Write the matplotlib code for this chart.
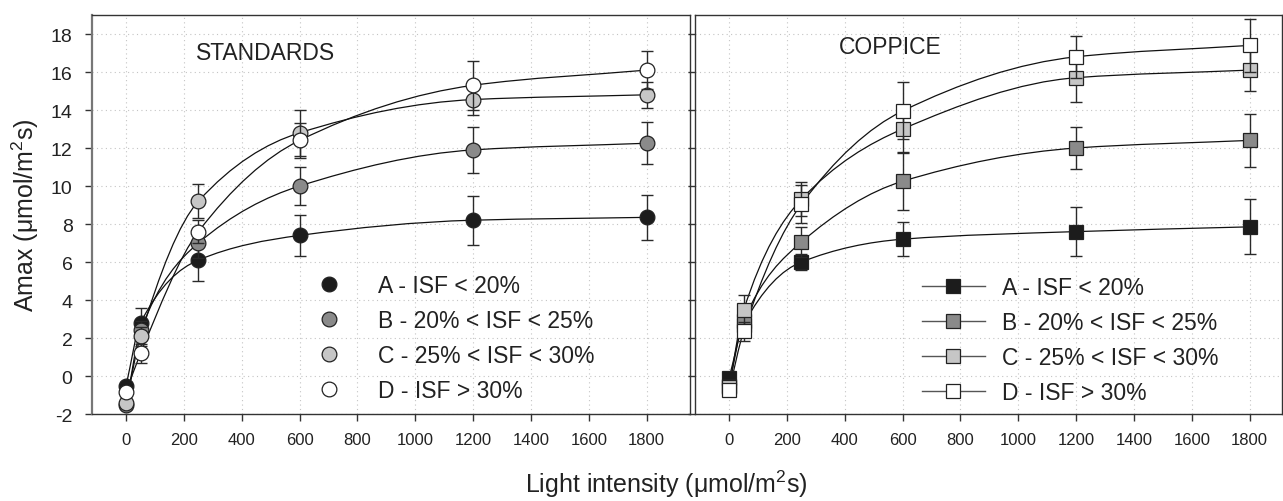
import numpy as np
import matplotlib
matplotlib.use('Agg')
import matplotlib.pyplot as plt
from matplotlib.path import Path
from matplotlib.patches import PathPatch
from matplotlib.lines import Line2D

plt.rcParams['font.family'] = ['Liberation Sans', 'DejaVu Sans']
plt.rcParams['mathtext.fontset'] = 'custom'
plt.rcParams['mathtext.rm'] = 'Liberation Sans'
plt.rcParams['mathtext.it'] = 'Liberation Sans:italic'
plt.rcParams['axes.unicode_minus'] = False  # 负号用连字符

# 光强 (x)
light = [0, 50, 250, 600, 1200, 1800]
labels = ['A - ISF < 20%', 'B - 20% < ISF < 25%', 'C - 25% < ISF < 30%', 'D - ISF > 30%']
fills = ['#1c1c1c', '#8a8a8a', '#c6c6c6', '#ffffff']

# STANDARDS
std_A = [-0.5, 2.8, 6.1, 7.4, 8.2, 8.35]
std_A_err = [0.2, 0.8, 1.1, 1.1, 1.3, 1.2]
std_B = [-1.5, 2.4, 7.0, 10.0, 11.9, 12.25]
std_B_err = [0.2, 0.5, 0.8, 1.0, 1.2, 1.1]
std_C = [-1.4, 2.1, 9.2, 12.8, 14.55, 14.8]
std_C_err = [0.2, 0.5, 0.9, 1.2, 0.8, 0.7]
std_D = [-0.85, 1.2, 7.6, 12.4, 15.3, 16.1]
std_D_err = [0.2, 0.5, 0.6, 0.9, 1.3, 1.0]

# COPPICE
cop_A = [-0.1, 2.7, 6.0, 7.2, 7.6, 7.85]
cop_A_err = [0.2, 0.4, 0.4, 0.9, 1.3, 1.45]
cop_B = [-0.5, 2.9, 7.05, 10.25, 12.0, 12.4]
cop_B_err = [0.2, 0.5, 0.8, 1.5, 1.1, 1.4]
cop_C = [-0.6, 3.45, 9.3, 13.0, 15.7, 16.1]
cop_C_err = [0.2, 0.8, 0.9, 1.2, 1.3, 1.1]
cop_D = [-0.75, 2.35, 9.05, 13.95, 16.8, 17.4]
cop_D_err = [0.2, 0.5, 1.0, 1.5, 1.1, 1.4]


def smooth_curve(ax, x, y):
    # 单调三次 Bezier 连线 (PCHIP 切线)
    x = np.asarray(x, float)
    y = np.asarray(y, float)
    h = np.diff(x)
    d = np.diff(y) / h
    m = np.zeros(len(x))
    m[0], m[-1] = d[0], d[-1]
    for k in range(1, len(x) - 1):
        if d[k - 1] * d[k] <= 0:
            m[k] = 0
        else:
            w1 = 2 * h[k] + h[k - 1]
            w2 = h[k] + 2 * h[k - 1]
            m[k] = (w1 + w2) / (w1 / d[k - 1] + w2 / d[k])
    verts = [(x[0], y[0])]
    codes = [Path.MOVETO]
    for k in range(len(h)):
        verts += [(x[k] + h[k] / 3, y[k] + m[k] * h[k] / 3),
                  (x[k + 1] - h[k] / 3, y[k + 1] - m[k + 1] * h[k] / 3),
                  (x[k + 1], y[k + 1])]
        codes += [Path.CURVE4] * 3
    ax.add_patch(PathPatch(Path(verts, codes), fill=False, ec='#111111',
                           lw=0.9, zorder=2))


fig = plt.figure(figsize=(12.83, 5.02), dpi=100)
ax1 = fig.add_axes([0.0717, 0.1733, 0.4661, 0.7948])
ax2 = fig.add_axes([0.5417, 0.1733, 0.4575, 0.7948])

panels = [
    (ax1, 'o', 10.6, [std_A, std_B, std_C, std_D], [std_A_err, std_B_err, std_C_err, std_D_err]),
    (ax2, 's', 9.6, [cop_A, cop_B, cop_C, cop_D], [cop_A_err, cop_B_err, cop_C_err, cop_D_err]),
]

for ax, mk, ms, ys, errs in panels:
    for i, (y, e) in enumerate(zip(ys, errs)):
        smooth_curve(ax, light, y)
        ax.errorbar(light, y, yerr=e, fmt='none', ecolor='#2a2a2a', elinewidth=1.0,
                    capsize=4.5, capthick=1.0, zorder=3 + 2 * i)
        ax.plot(light, y, ls='none', marker=mk, ms=ms, mfc=fills[i], mec='#222222',
                mew=0.9, zorder=4 + 2 * i)
    ax.set_ylim(-2, 19)
    ax.set_yticks(np.arange(-2, 19, 2))
    ax.set_xticks(np.arange(0, 1801, 200))
    ax.grid(True, color='#c4c4c4', linestyle=(0, (1, 3)), linewidth=0.8)
    ax.set_axisbelow(True)
    for s in ax.spines.values():
        s.set_color('#333333')
        s.set_linewidth(1.0)
    ax.tick_params(direction='out', length=5, width=1, color='#333333',
                   labelcolor='#222222')
    ax.tick_params(axis='x', labelsize=12, pad=8)

ax1.spines['left'].set_color('#777777')
ax1.spines['left'].set_linewidth(1.6)
ax1.set_xlim(-118, 1950)
ax2.set_xlim(-118, 1912)
ax1.tick_params(axis='y', labelsize=14, pad=9)
ax2.tick_params(axis='y', labelleft=False)

ax1.text(0.291, 0.907, 'STANDARDS', transform=ax1.transAxes, ha='center', va='center',
         fontsize=16.5, color='#222222')
ax2.text(0.332, 0.921, 'COPPICE', transform=ax2.transAxes, ha='center', va='center',
         fontsize=16.5, color='#222222')

ax1.set_ylabel('Amax (μmol/m$^{2}$s)', fontsize=18, color='#222222')
ax1.yaxis.set_label_coords(-0.085, 0.5)
fig.text(0.519, 0.036, 'Light intensity (μmol/m$^{2}$s)', ha='center', va='center',
         fontsize=18, color='#222222')

# 图例
h1 = [Line2D([], [], ls='none', marker='o', ms=10.6, mfc=c, mec='#222222', mew=0.9)
      for c in fills]
h2 = [Line2D([], [], color='#555555', lw=1.0, marker='s', ms=9.6, mfc=c, mec='#222222', mew=0.9)
      for c in fills]
ax1.legend(h1, labels, loc='upper left', bbox_to_anchor=(318 / 1283, 1 - 275 / 502),
           bbox_transform=fig.transFigure, frameon=False, fontsize=16.5, borderpad=0,
           borderaxespad=0, handlelength=1.0, handletextpad=1.6, labelspacing=0.53,
           labelcolor='#222222')
ax2.legend(h2, labels, loc='upper left', bbox_to_anchor=(922 / 1283, 1 - 277 / 502),
           bbox_transform=fig.transFigure, frameon=False, fontsize=16.5, borderpad=0,
           borderaxespad=0, handlelength=2.74, handletextpad=0.74, labelspacing=0.53,
           labelcolor='#222222')

fig.savefig('out.png', dpi=100)
